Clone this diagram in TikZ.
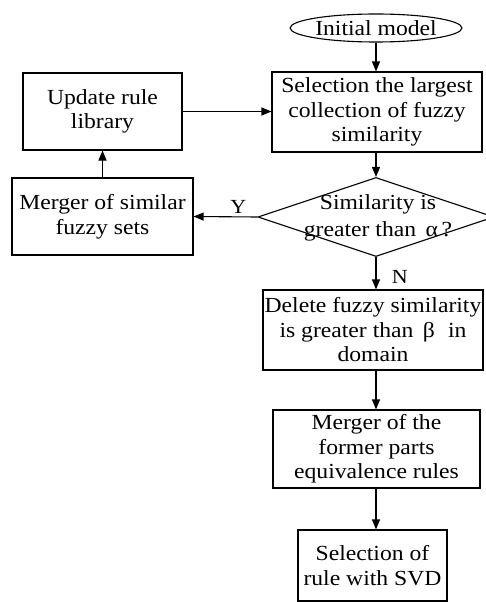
\documentclass[tikz,border=0pt]{standalone}
\usepackage{fontspec}
\setmainfont{Liberation Serif}[FakeStretch=1.1]
\usetikzlibrary{shapes.geometric,arrows.meta}
\begin{document}
\begin{tikzpicture}[x=1pt,y=-1pt,
  every node/.style={font=\fontsize{21.5}{24.5}\selectfont, align=center, text=black},
  box/.style={draw, line width=1.1pt, rectangle, inner sep=0pt},
  arr/.style={line width=1.1pt, -{Triangle[length=10pt,width=8pt]}},
  lbl/.style={font=\fontsize{20}{22}\selectfont}]
\useasboundingbox (0,0) rectangle (485,602);
\node[draw, line width=1.1pt, ellipse, minimum width=167pt, minimum height=28pt, inner sep=0pt] (init) at (376,28) {Initial model};
\node[box, minimum width=210pt, minimum height=80pt] (sel) at (377,112) {Selection the largest\\collection of fuzzy\\similarity};
\node[draw, line width=1.1pt, diamond, minimum width=236pt, minimum height=79pt, inner sep=0pt] (dia) at (376,217) {};
\node (diat) at (378,218) {Similarity is\\[2pt]greater than \,α\,?};
\node[box, minimum width=220pt, minimum height=80pt] (del) at (373,330) {Delete fuzzy similarity\\is greater than \,β\, \,in\\domain};
\node[box, minimum width=207pt, minimum height=78pt] (mer) at (376.5,449) {Merger of the\\former parts\\equivalence rules};
\node[box, minimum width=149pt, minimum height=71pt] (svd) at (372.5,565.5) {Selection of\\rule with SVD};
\node[box, minimum width=159pt, minimum height=77pt] (upd) at (102.5,111.5) {Update rule\\library};
\node[box, minimum width=181pt, minimum height=77pt] (msim) at (102.5,216.5) {Merger of similar\\fuzzy sets};
\draw[arr] (init.south) -- (init.south |- sel.north);
\draw[arr] (sel.south -| dia.north) -- (dia.north);
\draw[arr] (dia.south) -- (dia.south |- del.north) node[lbl, pos=0.6, right=12pt] {N};
\draw[arr] (dia.west) -- (msim.east) node[lbl, pos=0.3, above=-1pt] {Y};
\draw[arr] (msim.north) -- (upd.south);
\draw[arr] (upd.east) -- (upd.east -| sel.west);
\draw[arr] (del.south -| dia.south) -- (mer.north -| dia.south);
\draw[arr] (mer.south -| dia.south) -- (svd.north -| dia.south);
\end{tikzpicture}
\end{document}
